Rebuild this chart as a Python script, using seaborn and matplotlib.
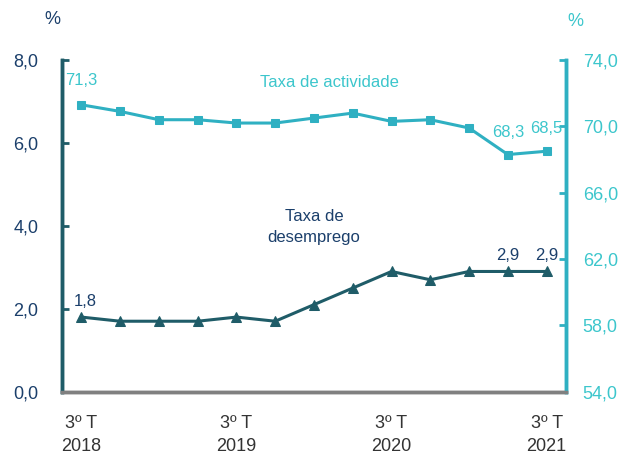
import numpy as np
import pandas as pd
import matplotlib
matplotlib.use("Agg")
import matplotlib.pyplot as plt
import seaborn as sns

# Quarterly data, 3º T 2018 .. 3º T 2021
quarters = list(range(13))
desemprego = [1.8, 1.7, 1.7, 1.7, 1.8, 1.7, 2.1, 2.5, 2.9, 2.7, 2.9, 2.9, 2.9]
actividade = [71.3, 70.9, 70.4, 70.4, 70.2, 70.2, 70.5, 70.8, 70.3, 70.4, 69.9, 68.3, 68.5]
tick_pos = [0, 4, 8, 12]
tick_labels = ["3º T\n2018", "3º T\n2019", "3º T\n2020", "3º T\n2021"]
left_ticks = [0, 2, 4, 6, 8]
right_ticks = [54, 58, 62, 66, 70, 74]

dark = "#1f5c68"
dark_text = "#1b3f6b"
light = "#2fb0c2"
light_text = "#3cc6cc"
grey = "#808080"

sns.set_style("white")
plt.rcParams["font.family"] = ["Liberation Sans", "DejaVu Sans"]

df = pd.DataFrame({"q": quarters, "desemprego": desemprego, "actividade": actividade})

fig = plt.figure(figsize=(6.21, 4.54), dpi=100)
ax = fig.add_axes([0.0998, 0.1372, 0.8116, 0.7306])
ax2 = ax.twinx()

sns.lineplot(data=df, x="q", y="desemprego", ax=ax, color=dark, lw=2.2,
             marker="^", markersize=7, markeredgecolor=dark)
sns.lineplot(data=df, x="q", y="actividade", ax=ax2, color=light, lw=2.2,
             marker="s", markersize=6, markeredgecolor=light)

ax.set_xlim(-0.5, 12.5)
ax.set_ylim(0, 8)
ax2.set_ylim(54, 74)

ax.set_xlabel("")
ax.set_ylabel("")
ax2.set_ylabel("")

# x axis
ax.set_xticks(tick_pos)
ax.set_xticklabels(tick_labels, fontsize=13, color="#333333", linespacing=1.45)
ax.set_xticks(np.arange(0.5, 12, 1), minor=True)
ax.tick_params(axis="x", which="major", length=0, pad=17)
ax.tick_params(axis="x", which="minor", direction="in", length=5, width=2, color=grey)

# y axes
ax.set_yticks(left_ticks)
ax.set_yticklabels([f"{v:.1f}".replace(".", ",") for v in left_ticks], fontsize=13, color=dark_text)
ax.tick_params(axis="y", direction="in", length=5, width=2, color=dark, pad=17)
ax2.set_yticks(right_ticks)
ax2.set_yticklabels([f"{v:.1f}".replace(".", ",") for v in right_ticks], fontsize=13, color=light_text)
ax2.tick_params(axis="y", direction="in", length=5, width=2, color=light, pad=12)

for a in (ax, ax2):
    a.spines["top"].set_visible(False)
    a.spines["left"].set_color(dark)
    a.spines["left"].set_linewidth(2.5)
    a.spines["right"].set_color(light)
    a.spines["right"].set_linewidth(2.5)
    a.spines["bottom"].set_color(grey)
    a.spines["bottom"].set_linewidth(2.5)
    a.grid(False)

# value labels
ax2.text(0, actividade[0] + 1.0, "71,3", color=light_text, fontsize=12, ha="center", va="bottom")
ax2.text(11, actividade[11] + 0.9, "68,3", color=light_text, fontsize=12, ha="center", va="bottom")
ax2.text(12, actividade[12] + 0.9, "68,5", color=light_text, fontsize=12, ha="center", va="bottom")
ax.text(0.1, desemprego[0] + 0.2, "1,8", color=dark_text, fontsize=12, ha="center", va="bottom")
ax.text(11, desemprego[11] + 0.2, "2,9", color=dark_text, fontsize=12, ha="center", va="bottom")
ax.text(12, desemprego[12] + 0.2, "2,9", color=dark_text, fontsize=12, ha="center", va="bottom")

# series names
ax2.text(6.4, 72.65, "Taxa de actividade", color=light_text, fontsize=12, ha="center", va="center")
ax.text(6.0, 3.98, "Taxa de\ndesemprego", color=dark_text, fontsize=12, ha="center", va="center",
        linespacing=1.5)

# unit labels
fig.text(52 / 621, 1 - 20 / 454, "%", color=dark_text, fontsize=13, ha="center", va="center")
fig.text(575 / 621, 1 - 22 / 454, "%", color=light_text, fontsize=13, ha="center", va="center")

fig.savefig("out.png", dpi=100)
